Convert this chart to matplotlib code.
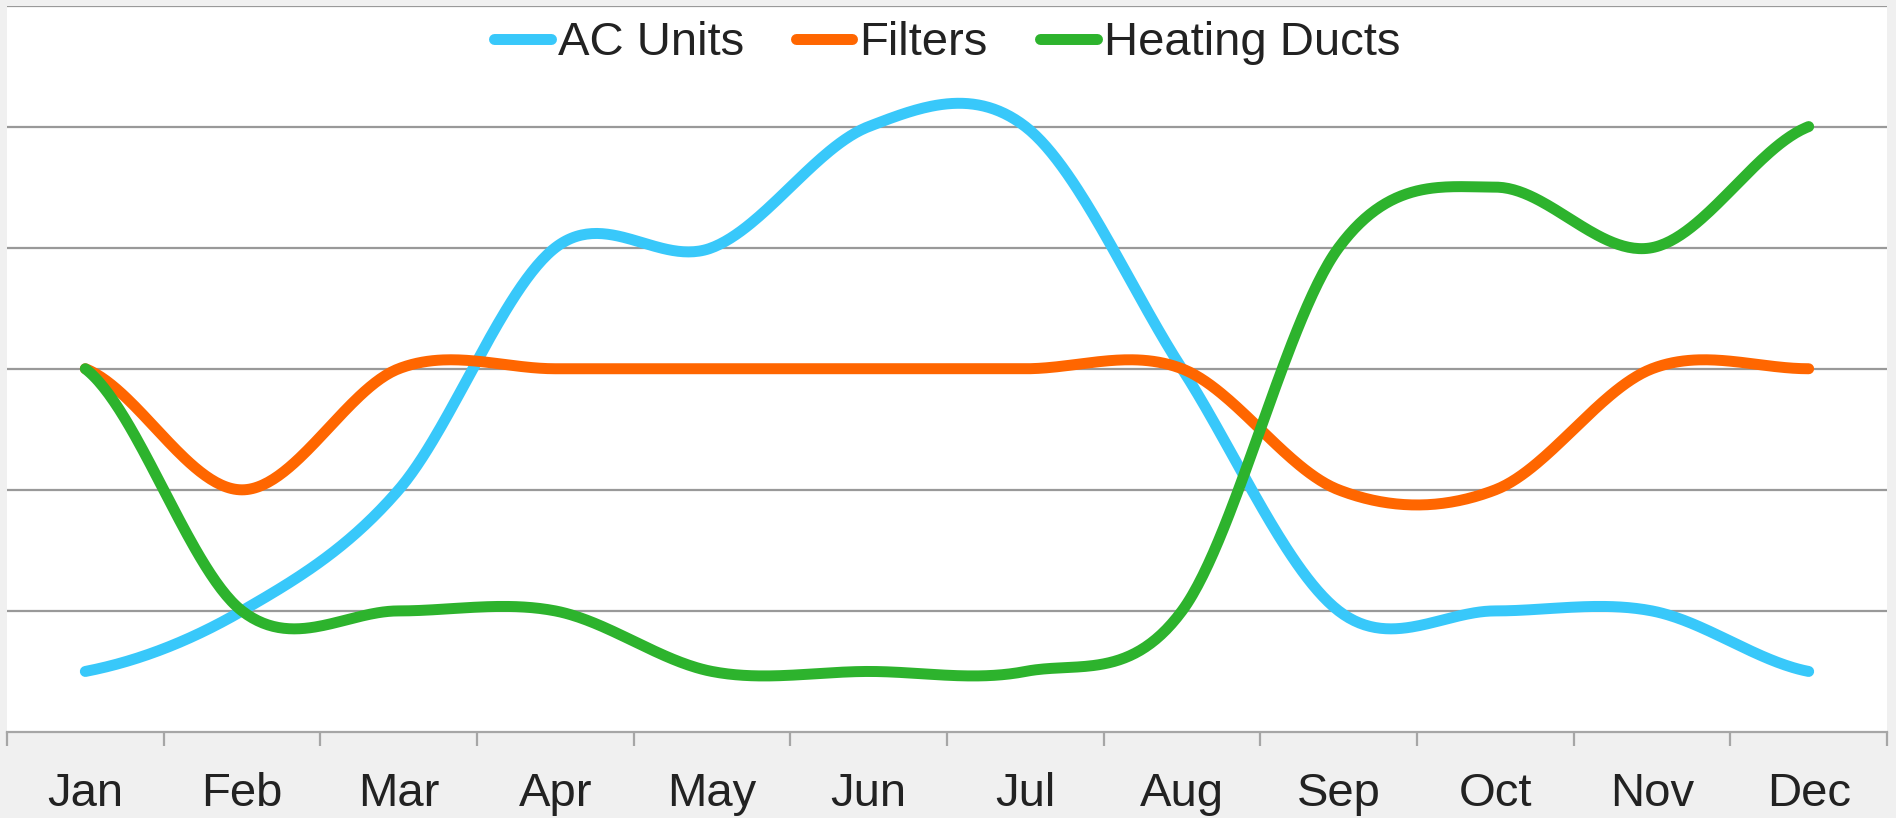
import numpy as np
import matplotlib
matplotlib.use("Agg")
import matplotlib.pyplot as plt

months = ["Jan", "Feb", "Mar", "Apr", "May", "Jun", "Jul", "Aug", "Sep", "Oct", "Nov", "Dec"]
ac_units = [0.5, 1, 2, 4, 4, 5, 5, 3, 1, 1, 1, 0.5]
filters = [3, 2, 3, 3, 3, 3, 3, 3, 2, 2, 3, 3]
heating_ducts = [3, 1, 1, 1, 0.5, 0.5, 0.5, 1, 4, 4.5, 4, 5]

series = [("AC Units", ac_units, "#38C8FA"),
          ("Filters", filters, "#FF6600"),
          ("Heating Ducts", heating_ducts, "#2DB32D")]


def smooth(vals, n=60):
    """Catmull-Rom (Excel-like) smoothing through the data points."""
    y = np.asarray(vals, dtype=float)
    k = len(y)
    ext = np.concatenate([[y[0]], y, [y[-1]]])
    xs, ys = [], []
    t = np.linspace(0, 1, n, endpoint=False)
    for i in range(k - 1):
        p0, p1, p2, p3 = ext[i], ext[i + 1], ext[i + 2], ext[i + 3]
        m1 = (p2 - p0) / 2.0
        m2 = (p3 - p1) / 2.0
        h00 = 2 * t**3 - 3 * t**2 + 1
        h10 = t**3 - 2 * t**2 + t
        h01 = -2 * t**3 + 3 * t**2
        h11 = t**3 - t**2
        xs.append(i + t)
        ys.append(h00 * p1 + h10 * m1 + h01 * p2 + h11 * m2)
    xs.append([k - 1])
    ys.append([y[-1]])
    return np.concatenate(xs), np.concatenate(ys)


plt.rcParams['font.family'] = ['Liberation Sans', 'DejaVu Sans']

fig = plt.figure(figsize=(18.96, 8.18), dpi=100, facecolor="#F0F0F0")
ax = fig.add_axes([7 / 1896, 86 / 818, 1880 / 1896, 726.5 / 818])
ax.set_facecolor("white")

LW = 7.9
for name, vals, col in series:
    xs, ys = smooth(vals)
    ax.plot(xs, ys, color=col, lw=LW, solid_capstyle="round", label=name, zorder=3)

ax.set_xlim(-0.5, 11.5)
ax.set_ylim(0, 6)
ax.set_yticks([1, 2, 3, 4, 5, 6])
ax.yaxis.grid(True, color="#999999", lw=1.6)
ax.set_axisbelow(True)
ax.tick_params(axis="y", left=False, labelleft=False)

ax.set_xticks(range(12))
ax.set_xticklabels(months, fontsize=34, color="#222222")
ax.set_xticks(np.arange(-0.5, 12, 1), minor=True)
ax.tick_params(axis="x", which="major", length=0, pad=29)
ax.tick_params(axis="x", which="minor", length=10, width=1.6, color="#A6A6A6")

for s in ["left", "right", "top"]:
    ax.spines[s].set_visible(False)
ax.spines["bottom"].set_color("#A6A6A6")
ax.spines["bottom"].set_linewidth(1.6)

leg = ax.legend(loc="upper center", bbox_to_anchor=(0.5, 1.004), ncol=3, frameon=False,
                fontsize=34, handlelength=1.2, handletextpad=0.15, columnspacing=1.1,
                borderaxespad=0.0)
for h in leg.get_lines():
    h.set_linewidth(LW)
    h.set_solid_capstyle("round")
for t in leg.get_texts():
    t.set_color("#222222")

fig.savefig("out.png", dpi=100, facecolor=fig.get_facecolor())
